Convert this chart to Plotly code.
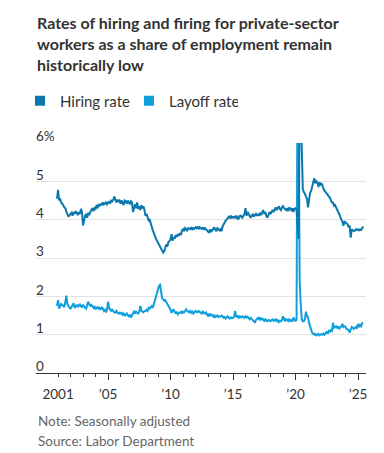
import pandas as pd
import plotly.graph_objects as go

# Monthly values, Dec 2000 - Jun 2025 (percent of employment, private sector)
hiring_rate = [
    4.55,
    4.78, 4.50, 4.55, 4.45, 4.42, 4.38, 4.32, 4.30, 4.20, 4.15, 4.08, 4.12,  # 2001
    4.15, 4.18, 4.10, 4.20, 4.15, 4.22, 4.18, 4.12, 4.20, 4.15, 4.28, 4.20,  # 2002
    3.85, 4.05, 4.10, 4.15, 4.05, 4.18, 4.12, 4.20, 4.25, 4.30, 4.22, 4.30,  # 2003
    4.28, 4.38, 4.30, 4.40, 4.35, 4.42, 4.38, 4.45, 4.40, 4.42, 4.45, 4.40,  # 2004
    4.45, 4.48, 4.42, 4.50, 4.48, 4.52, 4.60, 4.50, 4.45, 4.52, 4.48, 4.50,  # 2005
    4.42, 4.50, 4.45, 4.38, 4.50, 4.48, 4.42, 4.50, 4.45, 4.40, 4.48, 4.45,  # 2006
    4.20, 4.35, 4.40, 4.30, 4.45, 4.28, 4.35, 4.25, 4.38, 4.30, 4.35, 4.25,  # 2007
    4.10, 4.15, 4.05, 3.98, 4.00, 3.90, 3.75, 3.72, 3.65, 3.55, 3.50, 3.45,  # 2008
    3.40, 3.35, 3.30, 3.25, 3.20, 3.14, 3.18, 3.30, 3.36, 3.30, 3.42, 3.44,  # 2009
    3.50, 3.62, 3.45, 3.55, 3.50, 3.60, 3.55, 3.62, 3.58, 3.65, 3.60, 3.72,  # 2010
    3.75, 3.70, 3.78, 3.75, 3.72, 3.78, 3.76, 3.75, 3.80, 3.75, 3.78, 3.76,  # 2011
    3.80, 3.78, 3.82, 3.75, 3.80, 3.78, 3.76, 3.80, 3.74, 3.78, 3.75, 3.72,  # 2012
    3.70, 3.66, 3.75, 3.68, 3.72, 3.78, 3.80, 3.74, 3.70, 3.78, 3.75, 3.72,  # 2013
    3.75, 3.70, 3.82, 3.88, 3.95, 3.98, 4.00, 4.05, 4.08, 4.05, 4.10, 4.05,  # 2014
    4.07, 4.05, 4.08, 4.05, 4.10, 4.02, 4.05, 4.12, 4.08, 4.05, 4.10, 4.15,  # 2015
    4.30, 4.10, 4.20, 4.15, 4.12, 4.05, 4.10, 4.15, 4.08, 4.12, 4.15, 4.10,  # 2016
    4.15, 4.10, 4.18, 4.12, 4.20, 4.25, 4.15, 4.20, 4.10, 4.05, 4.12, 4.20,  # 2017
    4.15, 4.22, 4.25, 4.20, 4.28, 4.32, 4.25, 4.30, 4.35, 4.28, 4.25, 4.32,  # 2018
    4.35, 4.30, 4.28, 4.25, 4.30, 4.22, 4.32, 4.28, 4.25, 4.30, 4.20, 4.28,  # 2019
    4.30, 4.25, 3.90, 3.50, 7.00, 7.20, 5.90, 4.80, 4.72, 4.68, 4.60, 4.55,  # 2020
    4.32, 4.55, 4.70, 4.75, 4.85, 4.95, 5.08, 4.95, 5.00, 4.97, 4.85, 4.97,  # 2021
    4.90, 4.95, 4.85, 4.80, 4.75, 4.72, 4.70, 4.65, 4.60, 4.58, 4.50, 4.45,  # 2022
    4.45, 4.36, 4.38, 4.30, 4.27, 4.20, 4.15, 4.05, 4.00, 3.95, 3.84, 3.96,  # 2023
    3.92, 3.90, 3.88, 3.80, 3.85, 3.53, 3.75, 3.72, 3.70, 3.71, 3.75, 3.73,  # 2024
    3.75, 3.72, 3.74, 3.73, 3.78, 3.82,                                      # 2025
]

layoff_rate = [
    1.75,
    1.90, 1.68, 1.72, 1.80, 1.78, 1.75, 1.72, 1.85, 2.02, 1.80, 1.72, 1.70,  # 2001
    1.68, 1.72, 1.75, 1.82, 1.70, 1.75, 1.78, 1.72, 1.75, 1.80, 1.74, 1.72,  # 2002
    1.78, 1.72, 1.70, 1.68, 1.75, 1.86, 1.80, 1.75, 1.78, 1.72, 1.70, 1.75,  # 2003
    1.66, 1.70, 1.72, 1.68, 1.70, 1.65, 1.72, 1.68, 1.62, 1.65, 1.60, 1.64,  # 2004
    1.86, 1.70, 1.66, 1.62, 1.65, 1.60, 1.58, 1.57, 1.62, 1.58, 1.55, 1.57,  # 2005
    1.55, 1.57, 1.52, 1.55, 1.50, 1.52, 1.55, 1.50, 1.48, 1.52, 1.45, 1.50,  # 2006
    1.58, 1.62, 1.55, 1.60, 1.58, 1.55, 1.60, 1.75, 1.62, 1.60, 1.58, 1.62,  # 2007
    1.62, 1.65, 1.62, 1.70, 1.68, 1.72, 1.75, 1.70, 1.80, 1.92, 2.00, 2.15,  # 2008
    2.20, 2.28, 2.30, 2.15, 1.95, 1.92, 1.88, 1.90, 1.85, 1.80, 1.75, 1.72,  # 2009
    1.65, 1.57, 1.62, 1.66, 1.60, 1.55, 1.60, 1.53, 1.56, 1.57, 1.60, 1.55,  # 2010
    1.60, 1.58, 1.62, 1.66, 1.62, 1.60, 1.58, 1.62, 1.57, 1.60, 1.55, 1.58,  # 2011
    1.62, 1.60, 1.58, 1.62, 1.60, 1.57, 1.55, 1.60, 1.57, 1.55, 1.58, 1.52,  # 2012
    1.48, 1.55, 1.50, 1.53, 1.50, 1.47, 1.52, 1.44, 1.48, 1.50, 1.46, 1.48,  # 2013
    1.47, 1.50, 1.48, 1.44, 1.46, 1.42, 1.45, 1.48, 1.44, 1.42, 1.45, 1.43,  # 2014
    1.44, 1.46, 1.62, 1.48, 1.46, 1.50, 1.44, 1.47, 1.45, 1.48, 1.46, 1.44,  # 2015
    1.48, 1.45, 1.47, 1.43, 1.40, 1.44, 1.42, 1.38, 1.35, 1.31, 1.38, 1.42,  # 2016
    1.44, 1.40, 1.45, 1.38, 1.42, 1.40, 1.36, 1.40, 1.38, 1.35, 1.38, 1.36,  # 2017
    1.35, 1.38, 1.40, 1.36, 1.38, 1.40, 1.35, 1.38, 1.33, 1.36, 1.35, 1.38,  # 2018
    1.48, 1.40, 1.35, 1.42, 1.38, 1.35, 1.40, 1.36, 1.38, 1.34, 1.45, 1.38,  # 2019
    1.35, 1.40, 8.50, 7.00, 2.40, 1.82, 1.40, 1.35, 1.35, 1.40, 1.60, 1.50,  # 2020
    1.45, 1.30, 1.20, 1.15, 1.05, 1.03, 1.00, 1.02, 0.98, 1.00, 1.02, 0.98,  # 2021
    1.00, 1.02, 1.00, 1.03, 1.00, 1.05, 1.07, 1.03, 1.10, 1.08, 1.12, 1.10,  # 2022
    1.31, 1.18, 1.20, 1.22, 1.18, 1.20, 1.16, 1.18, 1.22, 1.28, 1.20, 1.22,  # 2023
    1.20, 1.15, 1.13, 1.12, 1.05, 1.15, 1.20, 1.18, 1.15, 1.18, 1.20, 1.16,  # 2024
    1.28, 1.20, 1.25, 1.22, 1.30, 1.31,                                      # 2025
]

series_names = ["Hiring rate", "Layoff rate"]
series_colors = ["#0b78ad", "#0f9fdc"]

x_label_years = [2001, 2005, 2010, 2015, 2020, 2025]
x_label_text = ["2001", "\u201905", "\u201910", "\u201915", "\u201920", "\u201925"]
y_tick_vals = [0, 1, 2, 3, 4, 5, 6]
y_tick_text = ["0", "1", "2", "3", "4", "5", "6%"]

title_lines = [
    "Rates of hiring and firing for private-sector",
    "workers as a share of employment remain",
    "historically low",
]
note_text = "Note: Seasonally adjusted"
source_text = "Source: Labor Department"

dates = pd.date_range("2000-12-01", periods=len(hiring_rate), freq="MS")
dates_l = pd.date_range("2000-12-01", periods=len(layoff_rate), freq="MS")

FONT = "Lato, Roboto, sans-serif"

# plot-area geometry in pixels
W, H = 384, 453
L, R, T, B = 36, 18, 143, 80
PW, PH = W - L - R, H - T - B


def px_x(px):
    return (px - L) / PW


def px_y(py):
    return (H - B - py) / PH


fig = go.Figure()

fig.add_trace(go.Scatter(x=dates_l, y=layoff_rate, mode="lines",
                         line=dict(color=series_colors[1], width=2),
                         showlegend=False, hoverinfo="skip"))
fig.add_trace(go.Scatter(x=dates, y=hiring_rate, mode="lines",
                         line=dict(color=series_colors[0], width=2),
                         showlegend=False, hoverinfo="skip"))

for name, color in zip(series_names, series_colors):
    fig.add_trace(go.Scatter(x=[None], y=[None], mode="markers", name=name,
                             marker=dict(symbol="square", size=10, color=color)))

fig.add_trace(go.Scatter(x=[None], y=[None], xaxis="x2", yaxis="y",
                         showlegend=False, hoverinfo="skip"))

x_range = ["1999-03-28", "2025-08-22"]
major_ticks = [f"{y}-01-01" for y in x_label_years]
minor_ticks = [f"{y}-01-01" for y in range(2001, 2026)]

fig.update_layout(
    width=W, height=H,
    margin=dict(l=L, r=R, t=T, b=B, pad=0, autoexpand=False),
    paper_bgcolor="white", plot_bgcolor="white",
    font=dict(family=FONT, color="#333333", size=13),
    legend=dict(orientation="h", x=px_x(20), xanchor="left", y=px_y(101),
                yanchor="middle", font=dict(size=15, color="#333333"),
                itemwidth=30, entrywidth=64, entrywidthmode="pixels",
                tracegroupgap=0, bgcolor="rgba(0,0,0,0)"),
    xaxis=dict(type="date", range=x_range, showgrid=False, zeroline=False,
               showline=True, linecolor="#333333", linewidth=1,
               tickmode="array", tickvals=major_ticks[:1], ticktext=x_label_text[:1],
               ticks="outside", ticklen=3, tickcolor="#333333", tickwidth=1,
               ticklabelstandoff=6,
               tickfont=dict(size=13.5, color="#333333"),
               minor=dict(tickmode="array", tickvals=minor_ticks[1:], ticks="outside",
                          ticklen=3, tickcolor="#333333", tickwidth=1, showgrid=False),
               fixedrange=True),
    xaxis2=dict(type="date", range=x_range, overlaying="x", anchor="y", side="bottom",
                showgrid=False, zeroline=False, showline=False,
                tickmode="array", tickvals=major_ticks[1:], ticktext=x_label_text[1:],
                ticks="outside", ticklen=6, tickcolor="#333333", tickwidth=1,
                ticklabelstandoff=3,
                tickfont=dict(size=13.5, color="#333333"), fixedrange=True),
    yaxis=dict(range=[0, 6], tickmode="array", tickvals=y_tick_vals, ticktext=y_tick_text,
               showgrid=True, gridcolor="#e3e3e3", gridwidth=1, zeroline=False,
               showline=False, ticks="", ticklen=0, ticklabelposition="inside top",
               ticklabeloverflow="allow", ticklabelshift=3, ticklabelstandoff=-3,
               tickfont=dict(size=13.5, color="#333333"), fixedrange=True),
    annotations=[
        dict(text="<br>".join(title_lines), x=px_x(35), y=px_y(11), xref="paper", yref="paper",
             xanchor="left", yanchor="top", align="left", showarrow=False,
             font=dict(size=16, color="#333333", weight="bold", family=FONT)),
        dict(text=note_text, x=px_x(36), y=px_y(421), xref="paper", yref="paper",
             xanchor="left", yanchor="middle", showarrow=False,
             font=dict(size=13.5, color="#666666")),
        dict(text=source_text, x=px_x(36), y=px_y(441), xref="paper", yref="paper",
             xanchor="left", yanchor="middle", showarrow=False,
             font=dict(size=13.5, color="#666666")),
    ],
)

fig.write_html("out.html", config={"displayModeBar": False},
               post_script="document.body.style.margin='0';")
